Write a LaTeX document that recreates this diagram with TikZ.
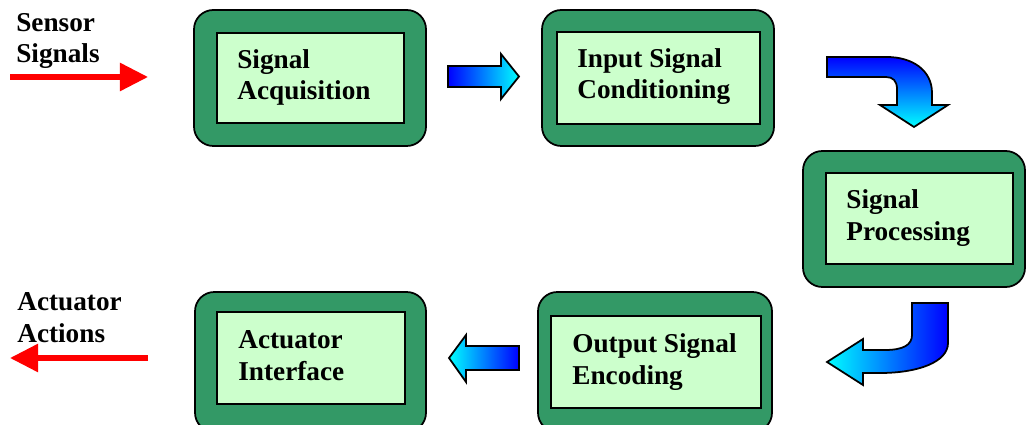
\documentclass[tikz,border=0pt]{standalone}
\usepackage{fontspec}
\setmainfont{Liberation Serif}
\usepackage{tikz}
\usetikzlibrary{arrows.meta}
\usetikzlibrary{positioning}

\definecolor{boxgreen}{RGB}{51,153,102}
\definecolor{boxlight}{RGB}{204,255,204}
\definecolor{arrowblue}{RGB}{0,0,255}
\definecolor{arrowcyan}{RGB}{0,255,255}

\tikzset{
  outerbox/.style={draw=black,line width=1pt,fill=boxgreen,rounded corners=11pt},
  innerbox/.style={draw=black,line width=1pt,fill=boxlight},
  lbl/.style={font=\bfseries\fontsize{15.5}{18.1}\selectfont,align=left,inner sep=0pt,anchor=base west},
  redarrow/.style={draw=red,line width=3pt,-{Triangle[length=16pt,width=15.5pt]}},
  blockarrow/.style={draw=black,line width=1pt,line join=miter}
}

\begin{document}
\begin{tikzpicture}[x=0.02cm,y=-0.02cm]
        \useasboundingbox (0,0) rectangle (1026,425);
        % sensor input
        \node[lbl] (sensor) at (16,63) {Sensor\\Signals};
        \coordinate (sensorstart) at (10,77);
        \coordinate (sensorend) at (148,77);
        \draw[redarrow] (sensorstart) -- (sensorend);
        %
        \draw[outerbox] (194,10) rectangle (426,146);
        \draw[innerbox] (217,33) rectangle (404,123);
        \node[lbl] (acq) at (237,100) {Signal\\Acquisition};
        %
        \draw[blockarrow,left color=arrowblue,right color=arrowcyan]
          (448,66) -- (501,66) -- (501,54) -- (519,76.5) -- (501,99) -- (501,87) -- (448,87) -- cycle;
        %
        \draw[outerbox] (542,10) rectangle (774,146);
        \draw[innerbox] (557,32) rectangle (760,124);
        \node[lbl] (cond) at (577,99) {Input Signal\\Conditioning};
        %
        \draw[blockarrow,top color=arrowblue,bottom color=arrowcyan]
          (827,57) -- (887,57) .. controls (912,57) and (932,70) .. (932,93) -- (932,105)
          -- (948,105) -- (914,127) -- (880,105) -- (897,105) -- (897,89)
          .. controls (897,81) and (893,77) .. (886,77) -- (827,77) -- cycle;
        %
        \draw[outerbox] (803,151) rectangle (1025,287);
        \draw[innerbox] (826,173) rectangle (1013,264);
        \node[lbl] (proc) at (846,240) {Signal\\Processing};
        %
        \draw[blockarrow,left color=arrowcyan,right color=arrowblue]
          (912,303) -- (948,303) -- (948,343) .. controls (948,362) and (918,373) .. (880,373)
          -- (863,373) -- (863,385) -- (827,362) -- (863,339) -- (863,350) -- (885,350)
          .. controls (903,350) and (912,345) .. (912,335) -- cycle;
        %
        \draw[outerbox] (538,292) rectangle (772,432);
        \draw[innerbox] (551,316) rectangle (761,408);
        \node[lbl] (enc) at (572,384) {Output Signal\\Encoding};
        %
        \draw[blockarrow,left color=arrowcyan,right color=arrowblue]
          (519,346) -- (466,346) -- (466,335) -- (449,358) -- (466,382) -- (466,370) -- (519,370) -- cycle;
        %
        \draw[outerbox] (195,292) rectangle (426,432);
        \draw[innerbox] (217,312) rectangle (405,404);
        \node[lbl] (act) at (238,380) {Actuator\\Interface};
        % actuator output
        \node[lbl] (actions) at (17,342) {Actuator\\Actions};
        \coordinate (actstart) at (148,358);
        \coordinate (actend) at (10,358);
        \draw[redarrow] (actstart) -- (actend);
      \end{tikzpicture}
\end{document}
